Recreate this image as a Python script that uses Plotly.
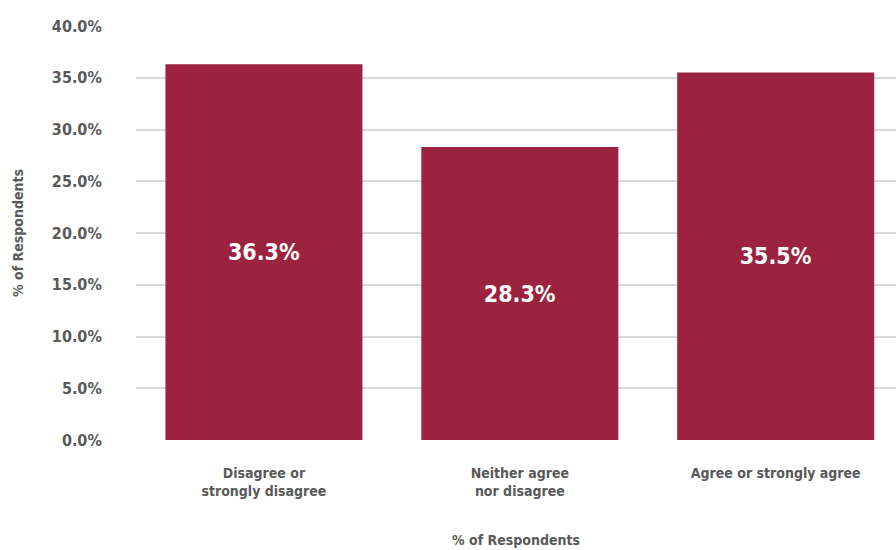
import plotly.graph_objects as go

categories = ["Disagree or<br>strongly disagree", "Neither agree<br>nor disagree", "Agree or strongly agree"]
values = [36.3, 28.3, 35.5]
y_ticks = [0, 5, 10, 15, 20, 25, 30, 35, 40]
y_tick_labels = [f"{v:.1f}%" for v in y_ticks]

FONT = "DejaVu Sans Condensed, Liberation Sans Narrow, Roboto, sans-serif"
GREY = "#595959"
BAR = "#9c2340"

fig = go.Figure(
    go.Bar(
        x=[0, 1, 2],
        y=values,
        width=0.77,
        marker=dict(color=BAR, line=dict(width=0)),
        text=[f"{v:.1f}%" for v in values],
        textposition="inside",
        insidetextanchor="middle",
        textfont=dict(family=FONT, size=23, color="white", weight="bold"),
        hoverinfo="skip",
    )
)

fig.update_layout(
    width=896,
    height=550,
    margin=dict(l=136, r=0, t=26, b=110),
    plot_bgcolor="white",
    paper_bgcolor="white",
    showlegend=False,
    font=dict(family=FONT, color=GREY, size=14),
    xaxis=dict(
        range=[-0.5, 2.47],
        tickmode="array",
        tickvals=[0, 1, 2],
        ticktext=categories,
        tickfont=dict(family=FONT, size=14, color=GREY, weight="bold"),
        showgrid=False,
        zeroline=False,
        showline=False,
        ticks="outside",
        ticklen=20,
        tickcolor="white",
        title=dict(text="% of Respondents", standoff=37,
                   font=dict(family=FONT, size=14, color=GREY, weight="bold")),
    ),
    yaxis=dict(
        range=[0, 40],
        tickmode="array",
        tickvals=y_ticks,
        ticktext=y_tick_labels,
        tickfont=dict(family=FONT, size=16, color=GREY, weight="bold"),
        showgrid=True,
        gridcolor="#d9d9d9",
        gridwidth=2,
        zeroline=False,
        showline=False,
        ticks="outside",
        ticklen=30,
        tickcolor="white",
        title=dict(text="% of Respondents", standoff=24,
                   font=dict(family=FONT, size=14, color=GREY, weight="bold")),
    ),
)

fig.write_html("out.html")
